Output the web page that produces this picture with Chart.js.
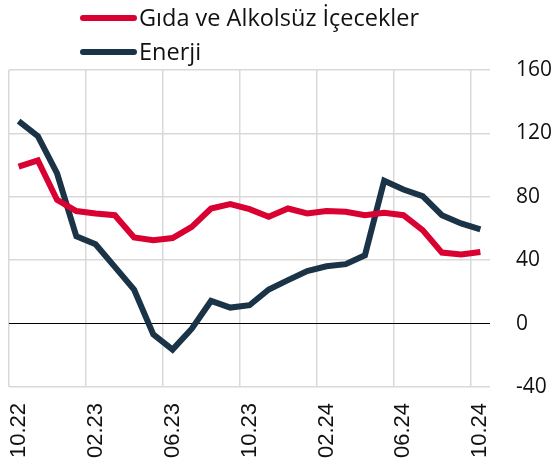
<!DOCTYPE html>
<html>
<head>
<meta charset="utf-8">
<script src="https://cdn.jsdelivr.net/npm/chart.js@4/dist/chart.umd.min.js"></script>
<style>
  body { margin: 0; background: #fff; }
  #wrap { width: 556px; height: 470px; }
</style>
</head>
<body>
<div id="wrap"><canvas id="myLineChart" width="556" height="470"></canvas></div>
<script>
// months 10.22 .. 10.24
const months = [
  '10.22', '11.22', '12.22', '01.23', '02.23', '03.23', '04.23', '05.23', '06.23',
  '07.23', '08.23', '09.23', '10.23', '11.23', '12.23', '01.24', '02.24', '03.24',
  '04.24', '05.24', '06.24', '07.24', '08.24', '09.24', '10.24'
];
const gida = [99, 103, 78, 71, 69.5, 68.4, 54.3, 52.6, 54, 61, 72.6, 75.4, 72.2, 67.4,
  72.6, 69.5, 71.1, 70.5, 68.4, 69.9, 68.4, 59, 44.8, 43.6, 45.2];
const enerji = [127.8, 118.3, 94.7, 55.1, 50.1, 35.8, 21.5, -6.8, -16.4, -3.2, 14.3, 10.1,
  11.6, 21.5, 27.4, 33.2, 36.2, 37.5, 43.1, 90.1, 84.6, 80.4, 68.4, 63.2, 59.4];
const seriesNames = ['Gıda ve Alkolsüz İçecekler', 'Enerji'];
const seriesColors = ['#d90032', '#1b3346'];
const yTicks = [-40, 0, 40, 80, 120, 160];

// legend drawn by hand, two rows on top
const legendRows = {
  id: 'legendRows',
  afterDraw(chart) {
    const ctx = chart.ctx;
    ctx.save();
    chart.data.datasets.forEach((ds, i) => {
      const y = 18 + i * 34;
      ctx.strokeStyle = ds.borderColor;
      ctx.lineWidth = 6;
      ctx.lineCap = 'round';
      ctx.beginPath();
      ctx.moveTo(83, y);
      ctx.lineTo(134, y);
      ctx.stroke();
      ctx.fillStyle = '#111';
      ctx.font = '23.5px "Open Sans"';
      ctx.textBaseline = 'middle';
      ctx.fillText(ds.label, 139, y + 1);
    });
    ctx.restore();
  }
};

const ctx = document.getElementById('myLineChart').getContext('2d');
const myLineChart = new Chart(ctx, {
  type: 'line',
  data: {
    labels: months,
    datasets: [{
      label: seriesNames[0],
      data: gida,
      borderColor: seriesColors[0],
      backgroundColor: seriesColors[0],
      borderWidth: 6,
      pointRadius: 0,
      tension: 0
    }, {
      label: seriesNames[1],
      data: enerji,
      borderColor: seriesColors[1],
      backgroundColor: seriesColors[1],
      borderWidth: 6,
      pointRadius: 0,
      tension: 0
    }]
  },
  options: {
    responsive: false,
    animation: false,
    layout: { padding: { top: 70, left: 9, right: 0, bottom: 0 } },
    plugins: {
      legend: { display: false },
      tooltip: { enabled: false }
    },
    scales: {
      x: {
        offset: true,
        afterFit: s => { s.height = 83; },
        grid: {
          offset: true,
          drawTicks: false,
          color: c => (c.index % 4 === 0 ? '#d9d9d9' : 'transparent'),
          lineWidth: 1.5
        },
        border: { display: false },
        ticks: {
          autoSkip: false,
          minRotation: 90,
          maxRotation: 90,
          padding: 16,
          color: '#111',
          font: { family: '"Liberation Sans", Arial', size: 22 },
          callback: function (v, i) { return i % 4 === 0 ? months[i] : ''; }
        }
      },
      y: {
        position: 'right',
        min: -40,
        max: 160,
        afterFit: s => { s.width = 66; },
        afterBuildTicks: s => { s.ticks = yTicks.map(v => ({ value: v })); },
        grid: {
          drawTicks: false,
          color: c => (c.tick && c.tick.value === 0 ? '#000' : '#d9d9d9'),
          lineWidth: c => (c.tick && c.tick.value === 0 ? 1 : 1.5)
        },
        border: { display: false },
        ticks: {
          padding: 26,
          color: '#111',
          font: { family: '"Open Sans"', size: 21 }
        }
      }
    }
  },
  plugins: [legendRows]
});
</script>
</body>
</html>
